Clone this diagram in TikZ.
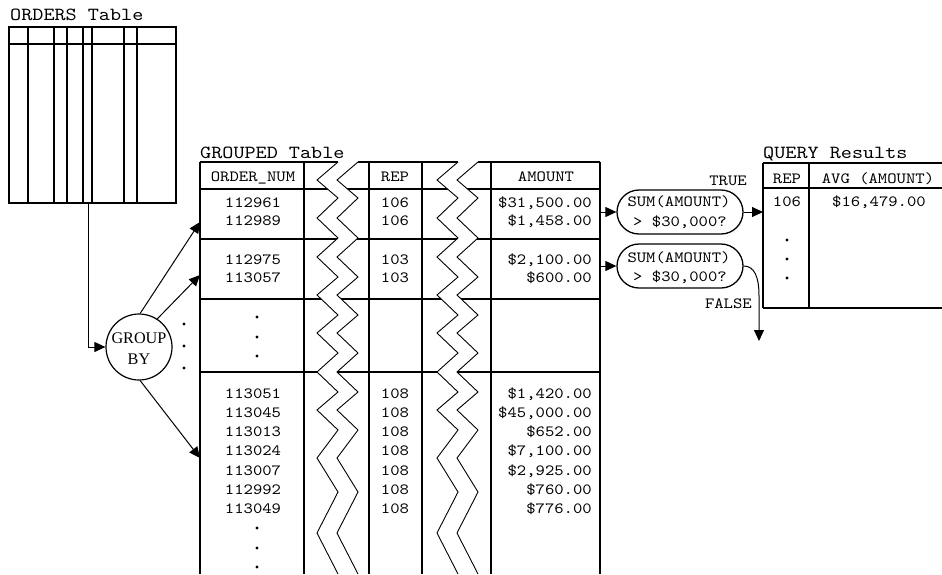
\documentclass[tikz,border=0pt]{standalone}
\usepackage{fontspec}
\setmainfont{Liberation Serif}
\setmonofont{lmmono10-regular.otf}[FakeStretch=1.143]
\usetikzlibrary{arrows.meta}
\begin{document}
\begin{tikzpicture}[x=1pt,y=-1pt,
  tl/.style={line width=1.3pt},
  zz/.style={line width=0.9pt, line join=miter},
  arr/.style={line width=1pt,-{Triangle[length=11pt,width=10pt]}},
  body/.style={font=\fontsize{15.6}{20}\selectfont\ttfamily, inner sep=0pt, anchor=base},
  bodyr/.style={body, anchor=base east},
  ttl/.style={font=\fontsize{18.5}{22}\selectfont\ttfamily, inner sep=0pt, anchor=base west},
  serif/.style={font=\fontsize{16.2}{18}\selectfont\rmfamily, inner sep=0pt, anchor=base},
  dotc/.style={circle, fill=black, inner sep=0pt, minimum size=3.4pt},
  capsule/.style={draw, line width=1.3pt, rounded corners=22pt, minimum width=126pt, minimum height=44pt, inner sep=0pt}
]
\useasboundingbox (0,0) rectangle (942,574);

% ---------- titles
\node[ttl] (tOrders) at (10,20) {ORDERS Table};
\node[ttl] (tGrouped) at (200,158) {GROUPED Table};
\node[ttl] (tQuery) at (763,158) {QUERY Results};

% ---------- ORDERS table
\draw[tl] (9,27) rectangle (176,203);
\draw[tl] (9,44) -- (176,44);
\foreach \x in {28,54,67,83,92,124,137} \draw[tl] (\x,27) -- (\x,203);
\coordinate (ob) at (88,203);

% ---------- GROUP BY
\node[draw, circle, line width=1.2pt, minimum size=66pt, inner sep=0pt] (grp) at (139,347) {};
\node[serif] (gb1) at (139,343) {GROUP};
\node[serif] (gb2) at (139,364) {BY};
\draw[arr] (ob) |- (grp.west);
\coordinate (t1) at (200,222);
\coordinate (t2) at (200,275);
\coordinate (t3) at (200,458);
\draw[arr] (grp.88) -- (t1);
\draw[arr] (grp.57) -- (t2);
\draw[arr] (grp.-88) -- (t3);
\node[dotc] (gd1) at (184,324) {};
\node[dotc] (gd2) at (184,346) {};
\node[dotc] (gd3) at (184,368) {};

% ---------- GROUPED table
\foreach \x in {200,304,369,422,491,600} \draw[tl] (\x,162) -- (\x,574);
\foreach \y in {162,189,239,299,372} \draw[tl] (200,\y) -- (600,\y);
\foreach \s in {0,120}{
 \begin{scope}[xshift=\s]
  \fill[white] (338,159) -- (338,162) -- (317,180) -- (338,198) -- (317,218) -- (338,238) -- (317,257) -- (338,277) -- (317,295) -- (338,315) -- (317,333) -- (338,353) -- (317,372) -- (338,392) -- (317,410) -- (338,430) -- (317,458) -- (338,492) -- (317,533) -- (338,574)
   -- (358,574) -- (337,533) -- (358,492) -- (337,458) -- (358,430) -- (337,410) -- (358,392) -- (337,372) -- (358,353) -- (337,333) -- (358,315) -- (337,295) -- (358,277) -- (337,257) -- (358,238) -- (337,218) -- (358,198) -- (337,180) -- (358,162) -- (358,159) -- cycle;
  \draw[zz] (338,162) -- (317,180) -- (338,198) -- (317,218) -- (338,238) -- (317,257) -- (338,277) -- (317,295) -- (338,315) -- (317,333) -- (338,353) -- (317,372) -- (338,392) -- (317,410) -- (338,430) -- (317,458) -- (338,492) -- (317,533) -- (338,574);
  \draw[zz] (358,162) -- (337,180) -- (358,198) -- (337,218) -- (358,238) -- (337,257) -- (358,277) -- (337,295) -- (358,315) -- (337,333) -- (358,353) -- (337,372) -- (358,392) -- (337,410) -- (358,430) -- (337,458) -- (358,492) -- (337,533) -- (358,574);
 \end{scope}
}

\node[body] (hOrd) at (253,181) {ORDER\_NUM};
\node[body] (hRep) at (395,181) {REP};
\node[body] (hAmt) at (546,181) {AMOUNT};

\foreach \y/\o/\r/\a [count=\i] in {
  207/112961/106/{\$31,500.00},
  225/112989/106/{\$1,458.00},
  264/112975/103/{\$2,100.00},
  282/113057/103/{\$600.00},
  398/113051/108/{\$1,420.00},
  417.3/113045/108/{\$45,000.00},
  436.6/113013/108/{\$652.00},
  455.9/113024/108/{\$7,100.00},
  475.2/113007/108/{\$2,925.00},
  494.5/112992/108/{\$760.00},
  513.8/113049/108/{\$776.00}}{
  \node[body] (ro\i) at (253,\y) {\o};
  \node[body] (rr\i) at (395,\y) {\r};
  \node[bodyr] (ra\i) at (592,\y) {\a};
}
\foreach \y [count=\i] in {317,337,356,528,548,567}
  \node[dotc] (od\i) at (257,\y) {};

% ---------- HAVING tests
\node[capsule] (c1) at (680,212) {};
\node[capsule] (c2) at (680,266) {};
\node[body] (c1a) at (679,206) {SUM(AMOUNT)};
\node[body] (c1b) at (680,226) {> \$30,000?};
\node[body] (c2a) at (679,262) {SUM(AMOUNT)};
\node[body] (c2b) at (680,281) {> \$30,000?};
\coordinate (a1) at (600,212);
\coordinate (a2) at (600,266);
\draw[arr] (a1) -- (c1.west);
\draw[arr] (a2) -- (c2.west);
\node[bodyr] (lTrue) at (747,185) {TRUE};
\node[bodyr] (lFalse) at (752,308) {FALSE};
\coordinate (q1) at (763,212);
\draw[arr] (c1.east) -- (q1);
\coordinate (f1) at (759,341);
\draw[arr] (c2.east) .. controls (754,266) and (759,276) .. (759,296) -- (f1);

% ---------- QUERY results
\draw[tl] (763,163) -- (942,163);
\draw[tl] (763,188) -- (942,188);
\draw[tl] (763,308) -- (942,308);
\draw[tl] (763,163) -- (763,308);
\draw[tl] (809,163) -- (809,308);
\node[body] (qh1) at (787,183) {REP};
\node[body] (qh2) at (878,183) {AVG (AMOUNT)};
\node[body] (qr1) at (787,206) {106};
\node[body] (qr2) at (879,206) {\$16,479.00};
\node[dotc] (qd1) at (787,240) {};
\node[dotc] (qd2) at (787,259) {};
\node[dotc] (qd3) at (787,278) {};
\end{tikzpicture}
\end{document}
